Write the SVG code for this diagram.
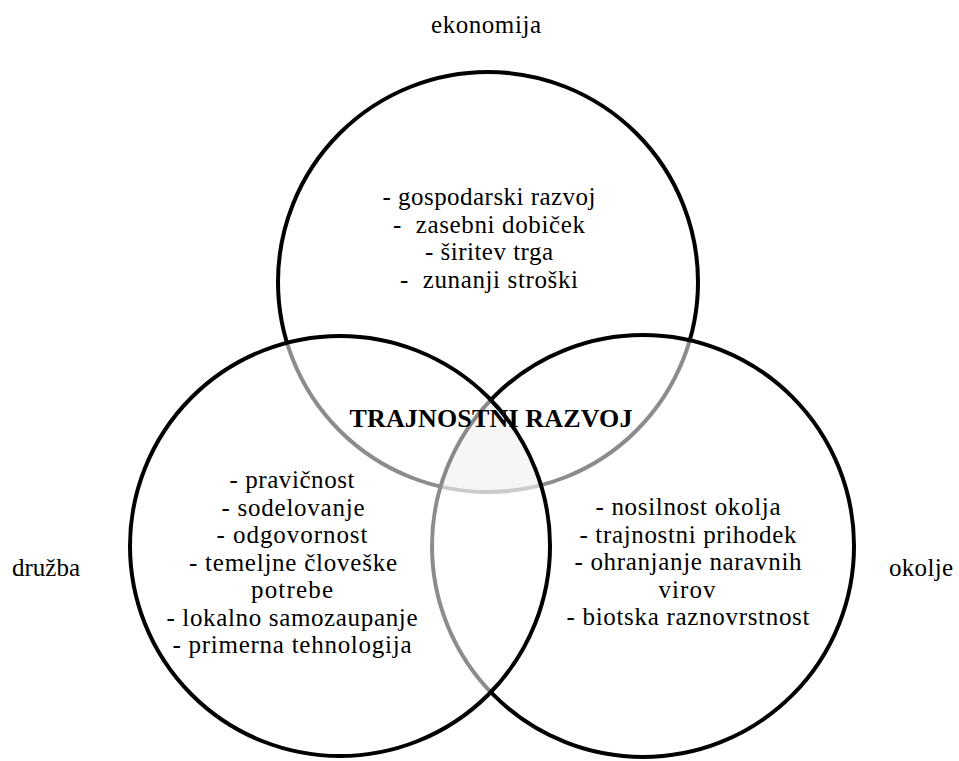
<svg xmlns="http://www.w3.org/2000/svg" width="959" height="761" viewBox="0 0 959 761">
  <style>
    .ring { fill: #ffffff; fill-opacity: 0.55; stroke: #000000; stroke-width: 4; }
    text { font-family: "Liberation Serif", "DejaVu Serif", serif; fill: #000000; }
    .t { font-size: 25px; text-anchor: middle; }
    .lbl { font-size: 25px; }
    .title { font-size: 26px; font-weight: bold; text-anchor: middle; }
  </style>
  <defs>
    <clipPath id="clipL"><circle cx="340" cy="546" r="210"/></clipPath>
    <clipPath id="clipR"><circle cx="643" cy="546" r="211"/></clipPath>
  </defs>
  <rect x="0" y="0" width="959" height="761" fill="#ffffff"/>

  <g id="node-ekonomija">
    <circle class="ring" cx="488" cy="282" r="210"/>
    <text class="t" x="489" y="205" textLength="213" lengthAdjust="spacing">- gospodarski razvoj</text>
    <text class="t" x="489" y="233" textLength="192" lengthAdjust="spacing" xml:space="preserve">-  zasebni dobiček</text>
    <text class="t" x="489" y="260" textLength="128" lengthAdjust="spacing">- širitev trga</text>
    <text class="t" x="489" y="288" textLength="178" lengthAdjust="spacing" xml:space="preserve">-  zunanji stroški</text>
  </g>

  <g id="node-okolje">
    <circle class="ring" cx="643" cy="546" r="211"/>
    <text class="t" x="688" y="515" textLength="185" lengthAdjust="spacing">- nosilnost okolja</text>
    <text class="t" x="688" y="543" textLength="217" lengthAdjust="spacing">- trajnostni prihodek</text>
    <text class="t" x="688" y="570" textLength="227" lengthAdjust="spacing">- ohranjanje naravnih</text>
    <text class="t" x="687" y="598" textLength="57" lengthAdjust="spacing">virov</text>
    <text class="t" x="688" y="625" textLength="243" lengthAdjust="spacing">- biotska raznovrstnost</text>
  </g>

  <g id="node-druzba">
    <circle class="ring" cx="340" cy="546" r="210"/>
    <text class="t" x="292" y="488" textLength="125" lengthAdjust="spacing">- pravičnost</text>
    <text class="t" x="293" y="516" textLength="143" lengthAdjust="spacing">- sodelovanje</text>
    <text class="t" x="292" y="543" textLength="151" lengthAdjust="spacing">- odgovornost</text>
    <text class="t" x="293" y="571" textLength="208" lengthAdjust="spacing">- temeljne človeške</text>
    <text class="t" x="292" y="598" textLength="82" lengthAdjust="spacing">potrebe</text>
    <text class="t" x="292" y="626" textLength="251" lengthAdjust="spacing">- lokalno samozaupanje</text>
    <text class="t" x="292" y="653" textLength="239" lengthAdjust="spacing">- primerna tehnologija</text>
  </g>

  <g id="overlap-shade" clip-path="url(#clipL)">
    <g clip-path="url(#clipR)">
      <circle cx="488" cy="282" r="208" fill="#000000" fill-opacity="0.035"/>
    </g>
  </g>

  <g id="connectors"/>

  <g id="node-center">
    <text class="title" x="491" y="427" textLength="283" lengthAdjust="spacing">TRAJNOSTNI RAZVOJ</text>
  </g>

  <g id="labels">
    <text id="label-ekonomija" class="t" x="486" y="33" textLength="110" lengthAdjust="spacing">ekonomija</text>
    <text id="label-druzba" class="lbl" x="12" y="576" textLength="68" lengthAdjust="spacing">družba</text>
    <text id="label-okolje" class="lbl" x="889" y="576" textLength="64" lengthAdjust="spacing">okolje</text>
  </g>
</svg>
